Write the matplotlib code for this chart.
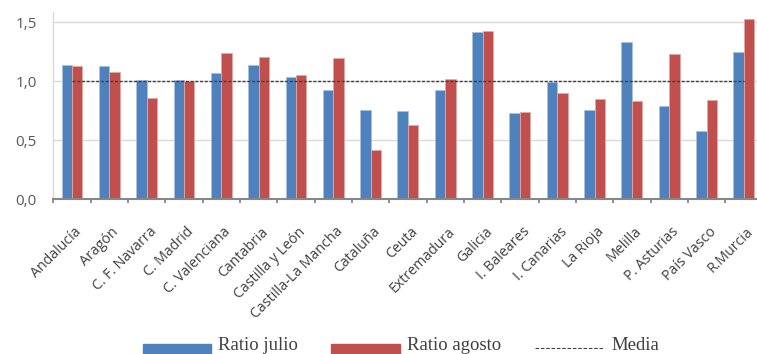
import matplotlib
matplotlib.use("Agg")
import matplotlib.pyplot as plt
from matplotlib.patches import Rectangle
from matplotlib.lines import Line2D
import numpy as np

regions = ["Andalucía", "Aragón", "C. F. Navarra", "C. Madrid", "C. Valenciana",
           "Cantabria", "Castilla y León", "Castilla-La Mancha", "Cataluña", "Ceuta",
           "Extremadura", "Galicia", "I. Baleares", "I. Canarias", "La Rioja",
           "Melilla", "P. Asturias", "País Vasco", "R.Murcia"]
ratio_julio = [1.14, 1.13, 1.01, 1.01, 1.07, 1.14, 1.04, 0.93, 0.76, 0.75,
               0.93, 1.42, 0.73, 0.99, 0.76, 1.33, 0.79, 0.58, 1.25]
ratio_agosto = [1.13, 1.08, 0.86, 1.00, 1.24, 1.21, 1.05, 1.20, 0.42, 0.63,
                1.02, 1.43, 0.74, 0.90, 0.85, 0.83, 1.23, 0.84, 1.53]
media = 1.0
yticks = [0.0, 0.5, 1.0, 1.5]
ytick_labels = ["0,0", "0,5", "1,0", "1,5"]

BLUE = "#4F81BD"
RED = "#C0504D"
W, H = 757, 354

fig = plt.figure(figsize=(W / 100, H / 100), dpi=100)
ax = fig.add_axes([53.3 / W, (H - 199.3) / H, 709.3 / W, 187.6 / H])

x = np.arange(len(regions))
bw = 0.28
ax.bar(x - bw / 2, ratio_julio, bw, color=BLUE, edgecolor="#A9C0DE", linewidth=0.6, zorder=3)
ax.bar(x + bw / 2, ratio_agosto, bw, color=RED, edgecolor="#E2A9A7", linewidth=0.6, zorder=3)
ax.plot([x[0], x[-1]], [media, media], color="#404040", lw=1.0,
        linestyle=(0, (2.2, 1.2)), zorder=4)

ax.set_xlim(-0.5, len(regions) - 0.5)
ax.set_ylim(0, 1.59)
ax.set_yticks(yticks)
ax.set_yticklabels(ytick_labels, fontsize=11, color="#595959", family="Open Sans")
ax.tick_params(axis="y", length=0, pad=12)
ax.yaxis.grid(True, color="#D9D9D9", lw=1.0, zorder=0)
ax.set_axisbelow(True)

ax.set_xticks(x + 0.06)
ax.set_xticklabels(regions, rotation=45, ha="right", va="top", rotation_mode="anchor",
                   fontsize=10.2, color="#404040", family="Open Sans")
ax.tick_params(axis="x", which="major", length=0, pad=18)
ax.set_xticks(np.arange(-0.5, len(regions), 1.0), minor=True)
ax.tick_params(axis="x", which="minor", length=3, width=1.3, color="#868686", direction="out")

for s in ["top", "right"]:
    ax.spines[s].set_visible(False)
ax.spines["left"].set_color("#D9D9D9")
ax.spines["left"].set_linewidth(1.0)
ax.spines["bottom"].set_color("#868686")
ax.spines["bottom"].set_linewidth(1.5)
ax.spines["bottom"].set_zorder(5)

# legend row along the bottom edge
def px(xp, yp_from_top):
    return xp / W, (H - yp_from_top) / H

leg_font = dict(family="Liberation Serif", fontsize=13.5, color="#404040", va="baseline")
for x0, x1, col in [(143, 211, BLUE), (331, 400, RED)]:
    fx, fy = px(x0, 356)
    fig.patches.append(Rectangle((fx, fy), (x1 - x0) / W, 12 / H,
                                 transform=fig.transFigure, color=col))
fig.text(*px(218, 349.5), "Ratio julio", **leg_font)
fig.text(*px(407, 349.5), "Ratio agosto", **leg_font)
lx0, ly = px(535, 348)
lx1, _ = px(603, 348)
fig.lines.append(Line2D([lx0, lx1], [ly, ly], transform=fig.transFigure,
                        color="#404040", lw=0.8, linestyle=(0, (3.2, 1.6))))
fig.text(*px(611, 349.5), "Media", **leg_font)

fig.savefig("out.png", dpi=100)
